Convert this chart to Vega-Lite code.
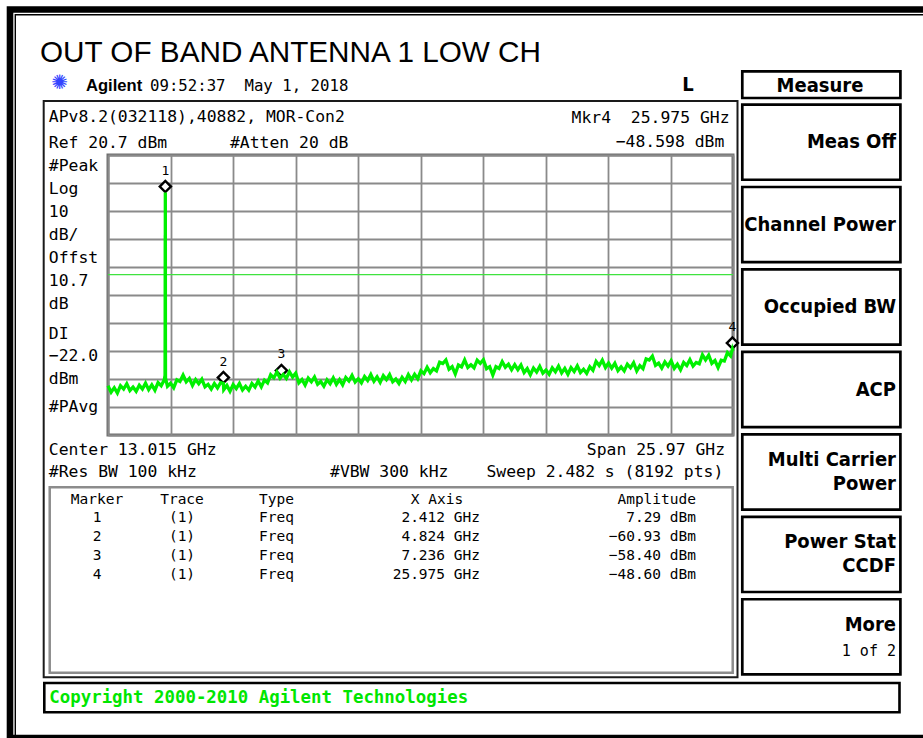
{
  "$schema": "https://vega.github.io/schema/vega-lite/v6.json",
  "width": 625,
  "height": 280,
  "autosize": {"type": "none"},
  "padding": {"left": 108, "top": 155, "right": 190, "bottom": 303},
  "background": "#ffffff",
  "config": {
    "view": {"stroke": "#6e6e6e", "strokeWidth": 3},
    "style": {
      "scr": {"font": "DejaVu Sans Mono", "fontSize": 16.4, "color": "#000000", "baseline": "middle"},
      "tbl": {"font": "DejaVu Sans Mono", "fontSize": 14.5, "color": "#000000", "baseline": "middle"},
      "key": {"font": "DejaVu Sans Condensed, DejaVu Sans", "fontSize": 20, "fontWeight": "bold", "color": "#000000", "baseline": "middle", "align": "right"}
    }
  },
  "datasets": {
    "trace": [
      {"freq":0.03,"amp":-61.7},{"freq":0.16,"amp":-64.0},{"freq":0.29,"amp":-62.4},{"freq":0.42,"amp":-64.3},{"freq":0.55,"amp":-61.7},{"freq":0.68,"amp":-62.9},{"freq":0.81,"amp":-61.0},{"freq":0.94,"amp":-63.4},{"freq":1.07,"amp":-62.2},{"freq":1.20,"amp":-63.7},{"freq":1.33,"amp":-61.5},{"freq":1.46,"amp":-62.9},{"freq":1.59,"amp":-60.8},{"freq":1.72,"amp":-63.1},{"freq":1.85,"amp":-61.4},{"freq":1.98,"amp":-63.3},{"freq":2.11,"amp":-60.6},{"freq":2.24,"amp":-61.7},{"freq":2.37,"amp":-59.6},
      {"freq":2.400,"amp":-58.0},{"freq":2.405,"amp":-40.0},{"freq":2.408,"amp":-8.0},{"freq":2.410,"amp":-30.0},{"freq":2.412,"amp":7.29},{"freq":2.414,"amp":-12.0},{"freq":2.417,"amp":-45.0},{"freq":2.420,"amp":-59.0},
      {"freq":2.50,"amp":-61.9},{"freq":2.63,"amp":-60.8},{"freq":2.76,"amp":-62.4},{"freq":2.89,"amp":-59.6},{"freq":3.02,"amp":-60.2},{"freq":3.15,"amp":-57.9},{"freq":3.28,"amp":-60.3},{"freq":3.41,"amp":-59.1},{"freq":3.54,"amp":-61.6},{"freq":3.67,"amp":-59.5},{"freq":3.80,"amp":-61.0},{"freq":3.93,"amp":-59.4},{"freq":4.06,"amp":-62.1},{"freq":4.19,"amp":-61.2},{"freq":4.32,"amp":-62.9},{"freq":4.45,"amp":-60.9},{"freq":4.58,"amp":-62.5},{"freq":4.71,"amp":-60.6},{"freq":4.824,"amp":-60.93},{"freq":4.84,"amp":-63.1},{"freq":4.97,"amp":-61.6},{"freq":5.10,"amp":-63.7},{"freq":5.23,"amp":-61.3},{"freq":5.36,"amp":-62.7},{"freq":5.49,"amp":-60.9},{"freq":5.62,"amp":-63.2},{"freq":5.75,"amp":-61.9},{"freq":5.88,"amp":-63.3},{"freq":6.01,"amp":-60.9},{"freq":6.14,"amp":-62.2},{"freq":6.27,"amp":-60.0},{"freq":6.40,"amp":-62.1},{"freq":6.53,"amp":-59.7},{"freq":6.66,"amp":-60.7},{"freq":6.79,"amp":-57.8},{"freq":6.92,"amp":-58.9},{"freq":7.05,"amp":-56.8},{"freq":7.18,"amp":-59.0},{"freq":7.236,"amp":-58.4},{"freq":7.31,"amp":-57.7},{"freq":7.44,"amp":-59.1},{"freq":7.57,"amp":-56.7},{"freq":7.70,"amp":-58.6},{"freq":7.83,"amp":-57.2},{"freq":7.96,"amp":-60.7},{"freq":8.09,"amp":-59.5},{"freq":8.22,"amp":-61.5},{"freq":8.35,"amp":-59.0},{"freq":8.48,"amp":-60.3},{"freq":8.61,"amp":-58.6},{"freq":8.74,"amp":-61.2},{"freq":8.87,"amp":-60.2},{"freq":9.00,"amp":-61.9},{"freq":9.13,"amp":-59.6},{"freq":9.26,"amp":-61.0},{"freq":9.39,"amp":-58.9},{"freq":9.52,"amp":-61.2},{"freq":9.65,"amp":-59.5},{"freq":9.78,"amp":-61.4},{"freq":9.91,"amp":-58.8},{"freq":10.04,"amp":-60.0},{"freq":10.17,"amp":-58.0},{"freq":10.30,"amp":-60.4},{"freq":10.43,"amp":-59.2},{"freq":10.56,"amp":-60.7},{"freq":10.69,"amp":-58.4},{"freq":10.82,"amp":-59.8},{"freq":10.95,"amp":-57.7},{"freq":11.08,"amp":-60.1},{"freq":11.21,"amp":-58.5},{"freq":11.34,"amp":-60.5},{"freq":11.47,"amp":-58.1},{"freq":11.60,"amp":-59.5},{"freq":11.73,"amp":-57.7},{"freq":11.86,"amp":-60.3},{"freq":11.99,"amp":-59.3},{"freq":12.12,"amp":-60.9},{"freq":12.25,"amp":-58.7},{"freq":12.38,"amp":-60.2},{"freq":12.51,"amp":-57.7},{"freq":12.64,"amp":-59.6},{"freq":12.77,"amp":-57.6},{"freq":12.90,"amp":-59.2},{"freq":13.03,"amp":-56.4},{"freq":13.16,"amp":-57.4},{"freq":13.29,"amp":-55.1},{"freq":13.42,"amp":-57.1},{"freq":13.55,"amp":-55.6},{"freq":13.68,"amp":-56.4},{"freq":13.81,"amp":-53.3},{"freq":13.94,"amp":-53.8},{"freq":14.07,"amp":-52.5},{"freq":14.20,"amp":-55.8},{"freq":14.33,"amp":-54.9},{"freq":14.46,"amp":-57.5},{"freq":14.59,"amp":-54.3},{"freq":14.72,"amp":-55.0},{"freq":14.85,"amp":-52.5},{"freq":14.98,"amp":-55.2},{"freq":15.11,"amp":-54.2},{"freq":15.24,"amp":-55.3},{"freq":15.37,"amp":-52.6},{"freq":15.50,"amp":-53.7},{"freq":15.63,"amp":-52.4},{"freq":15.76,"amp":-55.6},{"freq":15.89,"amp":-54.9},{"freq":16.02,"amp":-57.9},{"freq":16.15,"amp":-54.9},{"freq":16.28,"amp":-55.5},{"freq":16.41,"amp":-53.1},{"freq":16.54,"amp":-55.1},{"freq":16.67,"amp":-54.0},{"freq":16.80,"amp":-56.0},{"freq":16.93,"amp":-54.2},{"freq":17.06,"amp":-56.0},{"freq":17.19,"amp":-54.3},{"freq":17.32,"amp":-57.0},{"freq":17.45,"amp":-55.6},{"freq":17.58,"amp":-57.8},{"freq":17.71,"amp":-55.4},{"freq":17.84,"amp":-56.8},{"freq":17.97,"amp":-54.8},{"freq":18.10,"amp":-57.2},{"freq":18.23,"amp":-56.1},{"freq":18.36,"amp":-57.6},{"freq":18.49,"amp":-55.3},{"freq":18.62,"amp":-56.7},{"freq":18.75,"amp":-54.7},{"freq":18.88,"amp":-57.1},{"freq":19.01,"amp":-55.5},{"freq":19.14,"amp":-57.6},{"freq":19.27,"amp":-55.2},{"freq":19.40,"amp":-56.6},{"freq":19.53,"amp":-54.6},{"freq":19.66,"amp":-57.0},{"freq":19.79,"amp":-55.8},{"freq":19.92,"amp":-57.3},{"freq":20.05,"amp":-54.9},{"freq":20.18,"amp":-56.2},{"freq":20.31,"amp":-53.0},{"freq":20.44,"amp":-54.5},{"freq":20.57,"amp":-52.6},{"freq":20.70,"amp":-55.2},{"freq":20.83,"amp":-53.6},{"freq":20.96,"amp":-55.4},{"freq":21.09,"amp":-53.7},{"freq":21.22,"amp":-56.3},{"freq":21.35,"amp":-55.0},{"freq":21.48,"amp":-56.4},{"freq":21.61,"amp":-54.0},{"freq":21.74,"amp":-55.3},{"freq":21.87,"amp":-53.5},{"freq":22.00,"amp":-56.4},{"freq":22.13,"amp":-54.5},{"freq":22.26,"amp":-55.6},{"freq":22.39,"amp":-52.1},{"freq":22.52,"amp":-52.5},{"freq":22.65,"amp":-51.1},{"freq":22.78,"amp":-54.4},{"freq":22.91,"amp":-53.6},{"freq":23.04,"amp":-55.4},{"freq":23.17,"amp":-53.2},{"freq":23.30,"amp":-54.7},{"freq":23.43,"amp":-52.8},{"freq":23.56,"amp":-55.5},{"freq":23.69,"amp":-54.0},{"freq":23.82,"amp":-56.0},{"freq":23.95,"amp":-53.4},{"freq":24.08,"amp":-54.5},{"freq":24.21,"amp":-52.4},{"freq":24.34,"amp":-54.7},{"freq":24.47,"amp":-53.4},{"freq":24.60,"amp":-53.9},{"freq":24.73,"amp":-50.7},{"freq":24.86,"amp":-52.5},{"freq":24.99,"amp":-50.8},{"freq":25.12,"amp":-53.7},{"freq":25.25,"amp":-52.7},{"freq":25.38,"amp":-55.2},{"freq":25.51,"amp":-52.6},{"freq":25.64,"amp":-52.9},{"freq":25.77,"amp":-49.9},{"freq":25.90,"amp":-51.1},{"freq":25.975,"amp":-48.6},{"freq":26.0,"amp":-49.3}
    ],
    "markers": [
      {"marker": 1, "trace": "(1)", "type": "Freq", "freq": 2.412, "amp": 7.29},
      {"marker": 2, "trace": "(1)", "type": "Freq", "freq": 4.824, "amp": -60.93},
      {"marker": 3, "trace": "(1)", "type": "Freq", "freq": 7.236, "amp": -58.40},
      {"marker": 4, "trace": "(1)", "type": "Freq", "freq": 25.975, "amp": -48.60}
    ],
    "keys": [
      {"slot": 0, "line1": "Meas Off"},
      {"slot": 1, "line1": "Channel Power"},
      {"slot": 2, "line1": "Occupied BW"},
      {"slot": 3, "line1": "ACP"},
      {"slot": 4, "line1": "Multi Carrier", "line2": "Power"},
      {"slot": 5, "line1": "Power Stat", "line2": "CCDF"},
      {"slot": 6, "line1": "More", "sub": "1 of 2"}
    ]
  },
  "resolve": {"scale": {"yOffset": "independent"}},
  "layer": [
    {"data": {"values": [{}]}, "mark": {"type": "rule", "color": "#3fe33f", "strokeWidth": 1.3},
     "encoding": {
       "x": {"datum": 0.03, "type": "quantitative", "scale": {"domain": [0.03, 26.0], "nice": false, "zero": false},
             "axis": {"values": [0.03, 2.627, 5.224, 7.821, 10.418, 13.015, 15.612, 18.209, 20.806, 23.403, 26.0], "tickCount": 11, "grid": true, "gridColor": "#8a8a8a", "gridWidth": 1.8, "gridOpacity": 1, "labels": false, "ticks": false, "domain": false, "title": null}},
       "x2": {"datum": 26.0},
       "y": {"datum": -22.0, "type": "quantitative", "scale": {"domain": [-79.3, 20.7], "nice": false, "zero": false},
             "axis": {"values": [20.7, 10.7, 0.7, -9.3, -19.3, -29.3, -39.3, -49.3, -59.3, -69.3, -79.3], "tickCount": 11, "grid": true, "gridColor": "#8a8a8a", "gridWidth": 1.8, "gridOpacity": 1, "labels": false, "ticks": false, "domain": false, "title": null}}
     }},
    {"data": {"values": [{}]}, "mark": {"type": "rect", "filled": false, "stroke": "#000000", "strokeWidth": 6.6},
     "encoding": {"x": {"datum": -4.042}, "x2": {"datum": 34.394}, "y": {"datum": 72.664}, "y2": {"datum": -187.514}}},
    {"data": {"values": [{}]}, "mark": {"type": "rect", "filled": false, "stroke": "#000000", "strokeWidth": 1.4},
     "encoding": {"x": {"datum": -3.822}, "x2": {"datum": 34.394}, "y": {"datum": 70.807}, "y2": {"datum": -186.8}}},
    {"data": {"values": [{}]}, "mark": {"type": "rect", "filled": false, "stroke": "#1a1a1a", "strokeWidth": 2},
     "encoding": {"x": {"datum": -2.642}, "x2": {"datum": 26.187}, "y": {"datum": 39.986}, "y2": {"datum": -165.8}}},
    {"data": {"values": [{}]}, "mark": {"type": "rect", "filled": false, "stroke": "#8c8c8c", "strokeWidth": 2.5},
     "encoding": {"x": {"datum": -2.392}, "x2": {"datum": 25.988}, "y": {"datum": -97.979}, "y2": {"datum": -164.229}}},
    {"data": {"values": [{}]}, "mark": {"type": "rect", "filled": false, "stroke": "#000000", "strokeWidth": 2.6},
     "encoding": {"x": {"datum": -2.617}, "x2": {"datum": 32.918}, "y": {"datum": -167.871}, "y2": {"datum": -178.336}}},
    {"data": {"values": [{}]}, "mark": {"type": "rect", "filled": false, "stroke": "#000000", "strokeWidth": 2.7},
     "encoding": {"x": {"datum": 26.386}, "x2": {"datum": 32.956}, "y": {"datum": 50.593}, "y2": {"datum": 41.057}}},
    {"data": {"name": "keys"},
     "mark": {"type": "point", "shape": "M-1,-0.4757H1V0.4757H-1Z", "size": 24996, "filled": false, "stroke": "#000000", "strokeWidth": 2.7, "opacity": 1},
     "encoding": {"x": {"datum": 29.671}, "y": {"datum": 25.289},
                  "yOffset": {"field": "slot", "type": "quantitative", "scale": {"domain": [0, 6], "range": [0, 494.7]}}}},
    {"data": {"name": "markers"},
     "mark": {"type": "point", "shape": "diamond", "size": 125, "filled": true, "fill": "#ffffff", "stroke": "#000000", "strokeWidth": 2.4, "opacity": 1, "yOffset": -6},
     "encoding": {"x": {"field": "freq", "type": "quantitative"}, "y": {"field": "amp", "type": "quantitative"}}},
    {"data": {"name": "trace"},
     "mark": {"type": "line", "color": "#00f000", "strokeWidth": 3.3, "strokeJoin": "miter"},
     "encoding": {"x": {"field": "freq", "type": "quantitative"}, "y": {"field": "amp", "type": "quantitative"}}},
    {"data": {"name": "markers"},
     "mark": {"type": "text", "font": "DejaVu Sans Mono", "fontSize": 13, "dy": -22, "align": "center", "baseline": "middle", "color": "#000000"},
     "encoding": {"x": {"field": "freq", "type": "quantitative"}, "y": {"field": "amp", "type": "quantitative"}, "text": {"field": "marker", "type": "nominal"}}},

    {"data": {"values": [{}]}, "mark": {"type": "text", "text": "OUT OF BAND ANTENNA 1 LOW CH", "font": "Liberation Sans", "fontSize": 29.7, "align": "left", "baseline": "alphabetic", "color": "#000000"},
     "encoding": {"x": {"datum": -2.796}, "y": {"datum": 53.914}}},
    {"data": {"values": [{}]}, "mark": {"type": "text", "text": "✺", "font": "DejaVu Sans", "fontSize": 20, "align": "center", "baseline": "middle", "color": "#3344ff"},
     "encoding": {"x": {"datum": -1.985}, "y": {"datum": 46.236}}},
    {"data": {"values": [{}]}, "mark": {"type": "text", "text": "Agilent", "font": "Liberation Sans", "fontWeight": "bold", "fontSize": 16.6, "align": "left", "baseline": "alphabetic", "color": "#000000"},
     "encoding": {"x": {"datum": -0.884}, "y": {"datum": 43.664}}},
    {"data": {"values": [{}]}, "mark": {"type": "text", "text": "09:52:37\u00a0 May 1, 2018", "font": "DejaVu Sans Mono", "fontSize": 15.7, "align": "left", "baseline": "alphabetic", "color": "#000000"},
     "encoding": {"x": {"datum": 1.775}, "y": {"datum": 43.664}}},
    {"data": {"values": [{}]}, "mark": {"type": "text", "style": "key", "text": "L", "align": "center", "baseline": "alphabetic"},
     "encoding": {"x": {"datum": 24.13}, "y": {"datum": 43.379}}},
    {"data": {"values": [{}]}, "mark": {"type": "text", "style": "key", "text": "Measure", "align": "center", "baseline": "alphabetic"},
     "encoding": {"x": {"datum": 29.615}, "y": {"datum": 43.307}}},

    {"data": {"values": [{}]}, "mark": {"type": "text", "style": "scr", "text": "APv8.2(032118),40882, MOR-Con2", "align": "left"},
     "encoding": {"x": {"datum": -2.43}, "y": {"datum": 34.164}}},
    {"data": {"values": [{}]}, "mark": {"type": "text", "style": "scr", "text": "Mkr4\u00a0 25.975 GHz", "align": "right"},
     "encoding": {"x": {"datum": 25.855}, "y": {"datum": 33.914}}},
    {"data": {"values": [{}]}, "mark": {"type": "text", "style": "scr", "text": "Ref 20.7 dBm", "align": "left"},
     "encoding": {"x": {"datum": -2.43}, "y": {"datum": 25.093}}},
    {"data": {"values": [{}]}, "mark": {"type": "text", "style": "scr", "text": "#Atten 20 dB", "align": "left"},
     "encoding": {"x": {"datum": 5.099}, "y": {"datum": 25.093}}},
    {"data": {"values": [{}]}, "mark": {"type": "text", "style": "scr", "text": "−48.598 dBm", "align": "right"},
     "encoding": {"x": {"datum": 25.639}, "y": {"datum": 25.45}}},
    {"data": {"values": [{}]}, "mark": {"type": "text", "style": "scr", "text": ["#Peak", "Log", "10", "dB/", "Offst", "10.7", "dB"], "align": "left", "baseline": "alphabetic", "lineHeight": 23.05},
     "encoding": {"x": {"datum": -2.43}, "y": {"datum": 14.986}}},
    {"data": {"values": [{}]}, "mark": {"type": "text", "style": "scr", "text": ["DI", "−22.0", "dBm"], "align": "left", "baseline": "alphabetic", "lineHeight": 22.8},
     "encoding": {"x": {"datum": -2.43}, "y": {"datum": -44.907}}},
    {"data": {"values": [{}]}, "mark": {"type": "text", "style": "scr", "text": "#PAvg", "align": "left"},
     "encoding": {"x": {"datum": -2.43}, "y": {"datum": -69.407}}},
    {"data": {"values": [{}]}, "mark": {"type": "text", "style": "scr", "text": "Center 13.015 GHz", "align": "left"},
     "encoding": {"x": {"datum": -2.43}, "y": {"datum": -84.479}}},
    {"data": {"values": [{}]}, "mark": {"type": "text", "style": "scr", "text": "Span 25.97 GHz", "align": "right"},
     "encoding": {"x": {"datum": 25.668}, "y": {"datum": -84.479}}},
    {"data": {"values": [{}]}, "mark": {"type": "text", "style": "scr", "text": "#Res BW 100 kHz", "align": "left"},
     "encoding": {"x": {"datum": -2.43}, "y": {"datum": -92.407}}},
    {"data": {"values": [{}]}, "mark": {"type": "text", "style": "scr", "text": "#VBW 300 kHz", "align": "left"},
     "encoding": {"x": {"datum": 9.255}, "y": {"datum": -92.407}}},
    {"data": {"values": [{}]}, "mark": {"type": "text", "style": "scr", "text": "Sweep 2.482 s (8192 pts)", "align": "right"},
     "encoding": {"x": {"datum": 25.597}, "y": {"datum": -92.407}}},

    {"data": {"values": [{}]}, "mark": {"type": "text", "style": "tbl", "text": "Marker", "align": "center"},
     "encoding": {"x": {"datum": -0.427}, "y": {"datum": -102.336}}},
    {"data": {"values": [{}]}, "mark": {"type": "text", "style": "tbl", "text": "Trace", "align": "center"},
     "encoding": {"x": {"datum": 3.105}, "y": {"datum": -102.336}}},
    {"data": {"values": [{}]}, "mark": {"type": "text", "style": "tbl", "text": "Type", "align": "left"},
     "encoding": {"x": {"datum": 6.304}, "y": {"datum": -102.336}}},
    {"data": {"values": [{}]}, "mark": {"type": "text", "style": "tbl", "text": "X Axis", "align": "center"},
     "encoding": {"x": {"datum": 13.701}, "y": {"datum": -102.336}}},
    {"data": {"values": [{}]}, "mark": {"type": "text", "style": "tbl", "text": "Amplitude", "align": "right"},
     "encoding": {"x": {"datum": 24.463}, "y": {"datum": -102.336}}},
    {"data": {"name": "markers"}, "mark": {"type": "text", "style": "tbl", "align": "center"},
     "encoding": {"x": {"datum": -0.427}, "y": {"datum": -109.05}, "text": {"field": "marker", "type": "nominal"},
                  "yOffset": {"field": "marker", "type": "quantitative", "scale": {"domain": [1, 4], "range": [0, 57]}}}},
    {"data": {"name": "markers"}, "mark": {"type": "text", "style": "tbl", "align": "center"},
     "encoding": {"x": {"datum": 3.105}, "y": {"datum": -109.05}, "text": {"field": "trace", "type": "nominal"},
                  "yOffset": {"field": "marker", "type": "quantitative", "scale": {"domain": [1, 4], "range": [0, 57]}}}},
    {"data": {"name": "markers"}, "mark": {"type": "text", "style": "tbl", "align": "left"},
     "encoding": {"x": {"datum": 6.304}, "y": {"datum": -109.05}, "text": {"field": "type", "type": "nominal"},
                  "yOffset": {"field": "marker", "type": "quantitative", "scale": {"domain": [1, 4], "range": [0, 57]}}}},
    {"data": {"name": "markers"}, "mark": {"type": "text", "style": "tbl", "align": "right", "text": {"expr": "format(datum.freq, '.3f') + ' GHz'"}},
     "encoding": {"x": {"datum": 15.487}, "y": {"datum": -109.05},
                  "yOffset": {"field": "marker", "type": "quantitative", "scale": {"domain": [1, 4], "range": [0, 57]}}}},
    {"data": {"name": "markers"}, "mark": {"type": "text", "style": "tbl", "align": "right", "text": {"expr": "format(datum.amp, '.2f') + ' dBm'"}},
     "encoding": {"x": {"datum": 24.463}, "y": {"datum": -109.05},
                  "yOffset": {"field": "marker", "type": "quantitative", "scale": {"domain": [1, 4], "range": [0, 57]}}}},

    {"data": {"name": "keys"}, "transform": [{"filter": "!isValid(datum.line2) && !isValid(datum.sub)"}],
     "mark": {"type": "text", "style": "key", "align": "right"},
     "encoding": {"x": {"datum": 32.773}, "y": {"datum": 25.289}, "text": {"field": "line1", "type": "nominal"},
                  "yOffset": {"field": "slot", "type": "quantitative", "scale": {"domain": [0, 6], "range": [0, 494.7]}}}},
    {"data": {"name": "keys"}, "transform": [{"filter": "isValid(datum.line2) || isValid(datum.sub)"}],
     "mark": {"type": "text", "style": "key", "align": "right", "dy": -12},
     "encoding": {"x": {"datum": 32.773}, "y": {"datum": 25.289}, "text": {"field": "line1", "type": "nominal"},
                  "yOffset": {"field": "slot", "type": "quantitative", "scale": {"domain": [0, 6], "range": [0, 494.7]}}}},
    {"data": {"name": "keys"}, "transform": [{"filter": "isValid(datum.line2)"}],
     "mark": {"type": "text", "style": "key", "align": "right", "dy": 12},
     "encoding": {"x": {"datum": 32.773}, "y": {"datum": 25.289}, "text": {"field": "line2", "type": "nominal"},
                  "yOffset": {"field": "slot", "type": "quantitative", "scale": {"domain": [0, 6], "range": [0, 494.7]}}}},
    {"data": {"name": "keys"}, "transform": [{"filter": "isValid(datum.sub)"}],
     "mark": {"type": "text", "font": "DejaVu Sans Mono", "fontSize": 15, "align": "right", "baseline": "middle", "dy": 14, "color": "#000000"},
     "encoding": {"x": {"datum": 32.773}, "y": {"datum": 25.289}, "text": {"field": "sub", "type": "nominal"},
                  "yOffset": {"field": "slot", "type": "quantitative", "scale": {"domain": [0, 6], "range": [0, 494.7]}}}},

    {"data": {"values": [{}]}, "mark": {"type": "text", "text": "Copyright 2000-2010 Agilent Technologies", "font": "DejaVu Sans Mono", "fontWeight": "bold", "fontSize": 17.4, "align": "left", "baseline": "middle", "color": "#00e600"},
     "encoding": {"x": {"datum": -2.409}, "y": {"datum": -173.336}}}
  ]
}
